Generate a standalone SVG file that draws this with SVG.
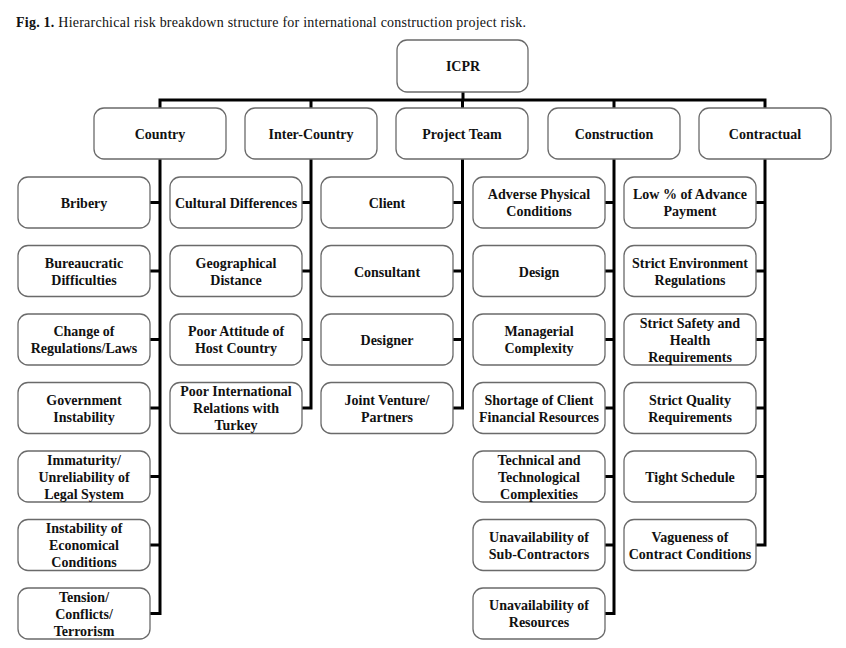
<svg xmlns="http://www.w3.org/2000/svg" width="846" height="648" viewBox="0 0 846 648">
<style>
.bg{fill:#ffffff}
.box{fill:#ffffff;stroke:#6a6a6a;stroke-width:1.3}
.t{font-family:"Liberation Serif","Times New Roman",serif;font-weight:bold;font-size:14px;fill:#111;text-anchor:middle}
.cap{font-family:"Liberation Serif","Times New Roman",serif;font-size:14px;fill:#111}
.con{fill:none;stroke:#000;stroke-width:3;stroke-linejoin:miter;stroke-linecap:butt}
</style>
<rect class="bg" x="0" y="0" width="846" height="648"/>
<text class="cap" x="16" y="27" textLength="510" lengthAdjust="spacing"><tspan font-weight="bold">Fig. 1.</tspan> Hierarchical risk breakdown structure for international construction project risk.</text>

<g id="connectors">
<path class="con" d="M463 92V100M160 108V100H765V108M311 100V108M462.5 100V108M614 100V108"/>
<path class="con" d="M160 159V615M150 202.5H160M150 271H160M150 339.5H160M150 408H160M150 476.5H160M150 545H160M150 613.5H160"/>
<path class="con" d="M311 159V409.5M302 202.5H311M302 271H311M302 339.5H311M302 408H311"/>
<path class="con" d="M462.5 159V409.5M453 202.5H462.5M453 271H462.5M453 339.5H462.5M453 408H462.5"/>
<path class="con" d="M614 159V615M605 202.5H614M605 271H614M605 339.5H614M605 408H614M605 476.5H614M605 545H614M605 613.5H614"/>
<path class="con" d="M765 159V546.5M756 202.5H765M756 271H765M756 339.5H765M756 408H765M756 476.5H765M756 545H765"/>
</g>

<g id="icpr"><rect class="box" x="397" y="40" width="131" height="52" rx="10"/><text class="t" x="463" y="71">ICPR</text></g>

<g id="country"><rect class="box" x="94" y="108" width="132" height="51" rx="10"/><text class="t" x="160" y="139">Country</text></g>
<g id="intercountry"><rect class="box" x="245" y="108" width="132" height="51" rx="10"/><text class="t" x="311" y="139">Inter-Country</text></g>
<g id="projectteam"><rect class="box" x="396" y="108" width="132" height="51" rx="10"/><text class="t" x="462" y="139">Project Team</text></g>
<g id="construction"><rect class="box" x="548" y="108" width="132" height="51" rx="10"/><text class="t" x="614" y="139">Construction</text></g>
<g id="contractual"><rect class="box" x="699" y="108" width="132" height="51" rx="10"/><text class="t" x="765" y="139">Contractual</text></g>

<!-- Country children -->
<g id="bribery"><rect class="box" x="18" y="177" width="132" height="51" rx="10"/><text class="t" x="84" y="208">Bribery</text></g>
<g id="bureaucratic"><rect class="box" x="18" y="245.5" width="132" height="51" rx="10"/><text class="t" x="84" y="267.5">Bureaucratic<tspan x="84" dy="17">Difficulties</tspan></text></g>
<g id="change-regs"><rect class="box" x="18" y="314" width="132" height="51" rx="10"/><text class="t" x="84" y="336">Change of<tspan x="84" dy="17">Regulations/Laws</tspan></text></g>
<g id="gov-instability"><rect class="box" x="18" y="382.5" width="132" height="51" rx="10"/><text class="t" x="84" y="404.5">Government<tspan x="84" dy="17">Instability</tspan></text></g>
<g id="immaturity"><rect class="box" x="18" y="451" width="132" height="51" rx="10"/><text class="t" x="84" y="464.5">Immaturity/<tspan x="84" dy="17">Unreliability of</tspan><tspan x="84" dy="17">Legal System</tspan></text></g>
<g id="econ-instability"><rect class="box" x="18" y="519.5" width="132" height="51" rx="10"/><text class="t" x="84" y="533">Instability of<tspan x="84" dy="17">Economical</tspan><tspan x="84" dy="17">Conditions</tspan></text></g>
<g id="tension"><rect class="box" x="18" y="588" width="132" height="51" rx="10"/><text class="t" x="84" y="601.5">Tension/<tspan x="84" dy="17">Conflicts/</tspan><tspan x="84" dy="17">Terrorism</tspan></text></g>

<!-- Inter-Country children -->
<g id="cultural"><rect class="box" x="170" y="177" width="132" height="51" rx="10"/><text class="t" x="236" y="208">Cultural Differences</text></g>
<g id="geographical"><rect class="box" x="170" y="245.5" width="132" height="51" rx="10"/><text class="t" x="236" y="267.5">Geographical<tspan x="236" dy="17">Distance</tspan></text></g>
<g id="poor-attitude"><rect class="box" x="170" y="314" width="132" height="51" rx="10"/><text class="t" x="236" y="336">Poor Attitude of<tspan x="236" dy="17">Host Country</tspan></text></g>
<g id="poor-relations"><rect class="box" x="170" y="382.5" width="132" height="51" rx="10"/><text class="t" x="236" y="396">Poor International<tspan x="236" dy="17">Relations with</tspan><tspan x="236" dy="17">Turkey</tspan></text></g>

<!-- Project Team children -->
<g id="client"><rect class="box" x="321" y="177" width="132" height="51" rx="10"/><text class="t" x="387" y="208">Client</text></g>
<g id="consultant"><rect class="box" x="321" y="245.5" width="132" height="51" rx="10"/><text class="t" x="387" y="276.5">Consultant</text></g>
<g id="designer"><rect class="box" x="321" y="314" width="132" height="51" rx="10"/><text class="t" x="387" y="345">Designer</text></g>
<g id="joint-venture"><rect class="box" x="321" y="382.5" width="132" height="51" rx="10"/><text class="t" x="387" y="404.5">Joint Venture/<tspan x="387" dy="17">Partners</tspan></text></g>

<!-- Construction children -->
<g id="adverse"><rect class="box" x="473" y="177" width="132" height="51" rx="10"/><text class="t" x="539" y="199">Adverse Physical<tspan x="539" dy="17">Conditions</tspan></text></g>
<g id="design"><rect class="box" x="473" y="245.5" width="132" height="51" rx="10"/><text class="t" x="539" y="276.5">Design</text></g>
<g id="managerial"><rect class="box" x="473" y="314" width="132" height="51" rx="10"/><text class="t" x="539" y="336">Managerial<tspan x="539" dy="17">Complexity</tspan></text></g>
<g id="shortage"><rect class="box" x="473" y="382.5" width="132" height="51" rx="10"/><text class="t" x="539" y="404.5">Shortage of Client<tspan x="539" dy="17">Financial Resources</tspan></text></g>
<g id="technical"><rect class="box" x="473" y="451" width="132" height="51" rx="10"/><text class="t" x="539" y="464.5">Technical and<tspan x="539" dy="17">Technological</tspan><tspan x="539" dy="17">Complexities</tspan></text></g>
<g id="subcontractors"><rect class="box" x="473" y="519.5" width="132" height="51" rx="10"/><text class="t" x="539" y="541.5">Unavailability of<tspan x="539" dy="17">Sub-Contractors</tspan></text></g>
<g id="resources"><rect class="box" x="473" y="588" width="132" height="51" rx="10"/><text class="t" x="539" y="610">Unavailability of<tspan x="539" dy="17">Resources</tspan></text></g>

<!-- Contractual children -->
<g id="advance-payment"><rect class="box" x="624" y="177" width="132" height="51" rx="10"/><text class="t" x="690" y="199">Low % of Advance<tspan x="690" dy="17">Payment</tspan></text></g>
<g id="environment"><rect class="box" x="624" y="245.5" width="132" height="51" rx="10"/><text class="t" x="690" y="267.5">Strict Environment<tspan x="690" dy="17">Regulations</tspan></text></g>
<g id="safety"><rect class="box" x="624" y="314" width="132" height="51" rx="10"/><text class="t" x="690" y="327.5">Strict Safety and<tspan x="690" dy="17">Health</tspan><tspan x="690" dy="17">Requirements</tspan></text></g>
<g id="quality"><rect class="box" x="624" y="382.5" width="132" height="51" rx="10"/><text class="t" x="690" y="404.5">Strict Quality<tspan x="690" dy="17">Requirements</tspan></text></g>
<g id="schedule"><rect class="box" x="624" y="451" width="132" height="51" rx="10"/><text class="t" x="690" y="482">Tight Schedule</text></g>
<g id="vagueness"><rect class="box" x="624" y="519.5" width="132" height="51" rx="10"/><text class="t" x="690" y="541.5">Vagueness of<tspan x="690" dy="17">Contract Conditions</tspan></text></g>
</svg>
